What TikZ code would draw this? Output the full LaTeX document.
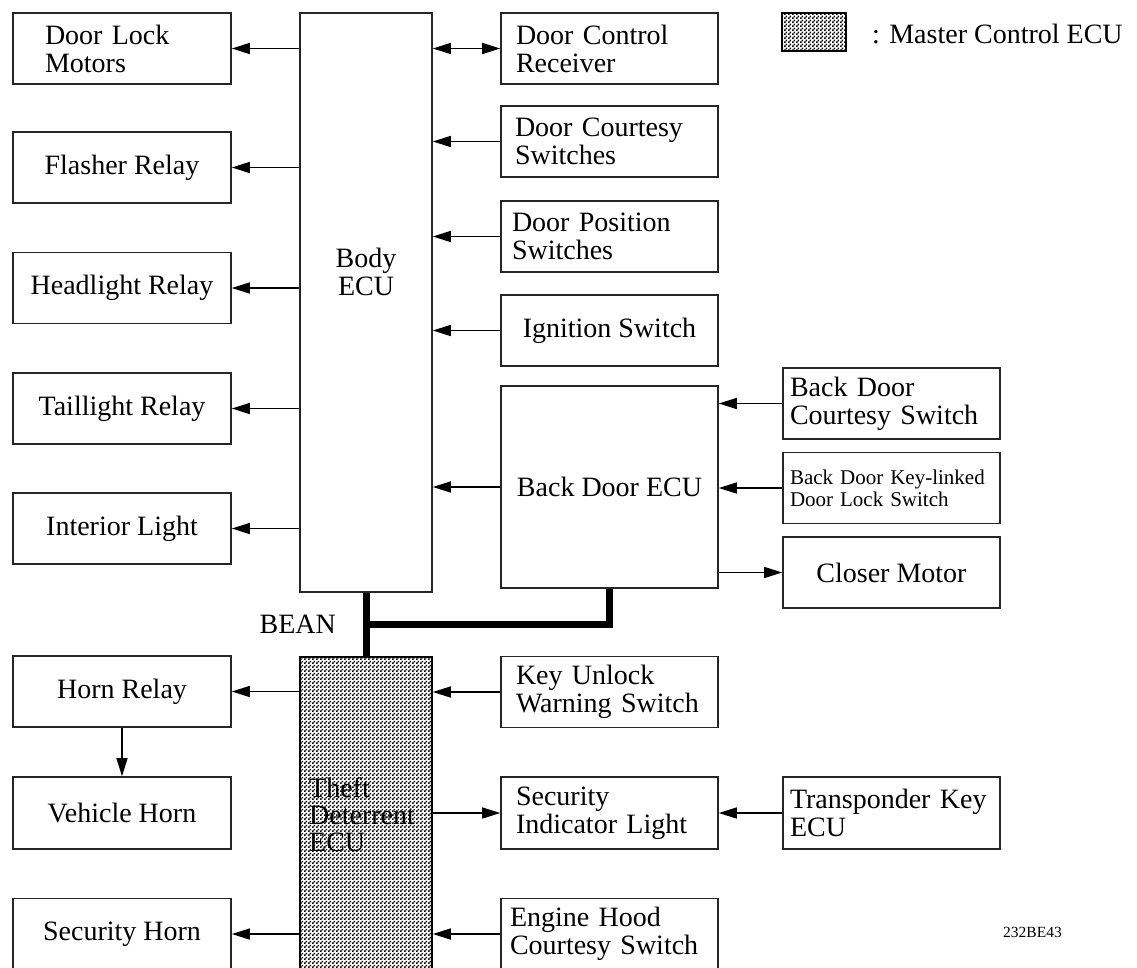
\documentclass[tikz,border=0pt]{standalone}
\usepackage{fontspec}
\setmainfont{Liberation Serif}
\usetikzlibrary{arrows.meta,patterns,calc}
\pgfdeclarepatternformonly{checker}{\pgfqpoint{0pt}{0pt}}{\pgfqpoint{4pt}{4pt}}{\pgfqpoint{4pt}{4pt}}{%
  \pgfpathrectangle{\pgfqpoint{0pt}{0pt}}{\pgfqpoint{2pt}{2pt}}%
  \pgfpathrectangle{\pgfqpoint{2pt}{2pt}}{\pgfqpoint{2pt}{2pt}}%
  \pgfusepath{fill}}
\begin{document}
\begin{tikzpicture}[x=1pt,y=-1pt,
  mainfont/.style={font=\fontsize{28}{28}\selectfont},
  box/.style={draw=black!85, line width=1.6pt, inner sep=0pt, minimum height=71pt, align=center, mainfont},
  wa/.style={box, minimum width=218pt},
  wb/.style={box, minimum width=217pt},
  lt/.style={text width=#1, align=left},
  arr/.style={line width=1.5pt, -{Triangle[length=18pt,width=11pt]}},
  darr/.style={line width=1.5pt, {Triangle[length=18pt,width=11pt]}-{Triangle[length=18pt,width=11pt]}},
  bean/.style={line width=7pt},
  ecu/.style={draw=black, line width=1.6pt, inner sep=0pt, pattern=checker, pattern color=black},
]
\useasboundingbox (0,0) rectangle (1137,967);
\fill[white] (0,0) rectangle (1137,967);
\clip (0,0) rectangle (1137,967);

% left column
\node[wa, lt=154pt] (dlm) at (122,48.5) {Door Lock\\Motors};
\node[wa] (fr) at (122,167.5) {Flasher Relay};
\node[wa] (hl) at (122,288) {Headlight Relay};
\node[wa] (tl) at (122,408.5) {Taillight Relay};
\node[wa] (il) at (122,528.5) {Interior Light};
\node[wa] (hr) at (122,691.5) {Horn Relay};
\node[wa, minimum height=72pt] (vh) at (122,813) {Vehicle Horn};
\node[wa] (sh) at (122,934) {Security Horn};

% body ECU
\node[draw=black!85, line width=1.6pt, inner sep=0pt, minimum width=132pt, minimum height=579pt] (body) at (366,302.5) {};
\node[mainfont, align=center, inner sep=0pt] (bodyt) at (366,272) {Body\\ECU};

% second column
\node[wb, lt=187pt] (dcr) at (609.5,48.5) {Door Control\\Receiver};
\node[wb, lt=189pt] (dcs) at (609.5,141.5) {Door Courtesy\\Switches};
\node[wb, lt=195pt] (dps) at (609.5,236.5) {Door Position\\Switches};
\node[wb] (ign) at (609.5,330.5) {Ignition Switch};
\node[wb, minimum height=202pt] (bd) at (609.5,487) {Back Door ECU};
\node[wb, lt=187pt] (kuw) at (609.5,692) {Key Unlock\\Warning Switch};
\node[wb, lt=187pt, minimum height=72pt] (sil) at (609.5,813) {Security\\Indicator Light};
\node[wb, lt=199pt] (eh) at (609.5,934) {Engine Hood\\Courtesy Switch};

% third column
\node[wb, lt=203pt] (bdc) at (891.5,403.5) {Back Door\\Courtesy Switch};
\node[wb, lt=203pt, font=\fontsize{21}{22}\selectfont] (kl) at (891.5,488) {Back Door Key-linked\\Door Lock Switch};
\node[wb] (cm) at (891.5,572.5) {Closer Motor};
\node[wb, lt=203pt, minimum height=72pt] (tk) at (891.5,813) {Transponder Key\\ECU};

% theft deterrent ECU
\node[ecu, minimum width=132pt, minimum height=340pt] (theft) at (366,827) {};
\node[font=\fontsize{28}{27}\selectfont, align=left, anchor=west, inner sep=0pt] (theftt) at (309,815) {Theft\\Deterrent\\ECU};

% BEAN bus
\draw[bean] (body.south) -- (theft.north);
\draw[bean] (bd.south) |- ($(body.south)!0.5!(theft.north)$);
\node[mainfont, anchor=base east, inner sep=0pt] (beant) at (336,633) {BEAN};

% body connections
\draw[arr] (body.west |- dlm.east) -- (dlm.east);
\draw[arr] (body.west |- fr.east) -- (fr.east);
\draw[arr] (body.west |- hl.east) -- (hl.east);
\draw[arr] (body.west |- tl.east) -- (tl.east);
\draw[arr] (body.west |- il.east) -- (il.east);
\draw[darr] (body.east |- dcr.west) -- (dcr.west);
\draw[arr] (dcs.west) -- (body.east |- dcs.west);
\draw[arr] (dps.west) -- (body.east |- dps.west);
\draw[arr] (ign.west) -- (body.east |- ign.west);
\draw[arr] (bd.west) -- (body.east |- bd.west);

% back door ECU connections
\draw[arr] (bdc.west) -- (bd.east |- bdc.west);
\draw[arr] (kl.west) -- (bd.east |- kl.west);
\draw[arr] (bd.east |- cm.west) -- (cm.west);

% theft deterrent connections
\draw[arr] (theft.west |- hr.east) -- (hr.east);
\draw[arr] (hr.south) -- (vh.north);
\draw[arr] (theft.west |- sh.east) -- (sh.east);
\draw[arr] (kuw.west) -- (theft.east |- kuw.west);
\draw[arr] (theft.east |- sil.west) -- (sil.west);
\draw[arr] (tk.west) -- (sil.east);
\draw[arr] (eh.west) -- (theft.east |- eh.west);

% legend
\node[ecu, minimum width=64pt, minimum height=38pt] (leg) at (814,32) {};
\node[mainfont, anchor=base west, inner sep=0pt] (legt) at (872,43) {: Master Control ECU};

% code
\node[font=\fontsize{15.5}{16}\selectfont, anchor=base west, inner sep=0pt] (code) at (1003,937) {232BE43};
\end{tikzpicture}
\end{document}
